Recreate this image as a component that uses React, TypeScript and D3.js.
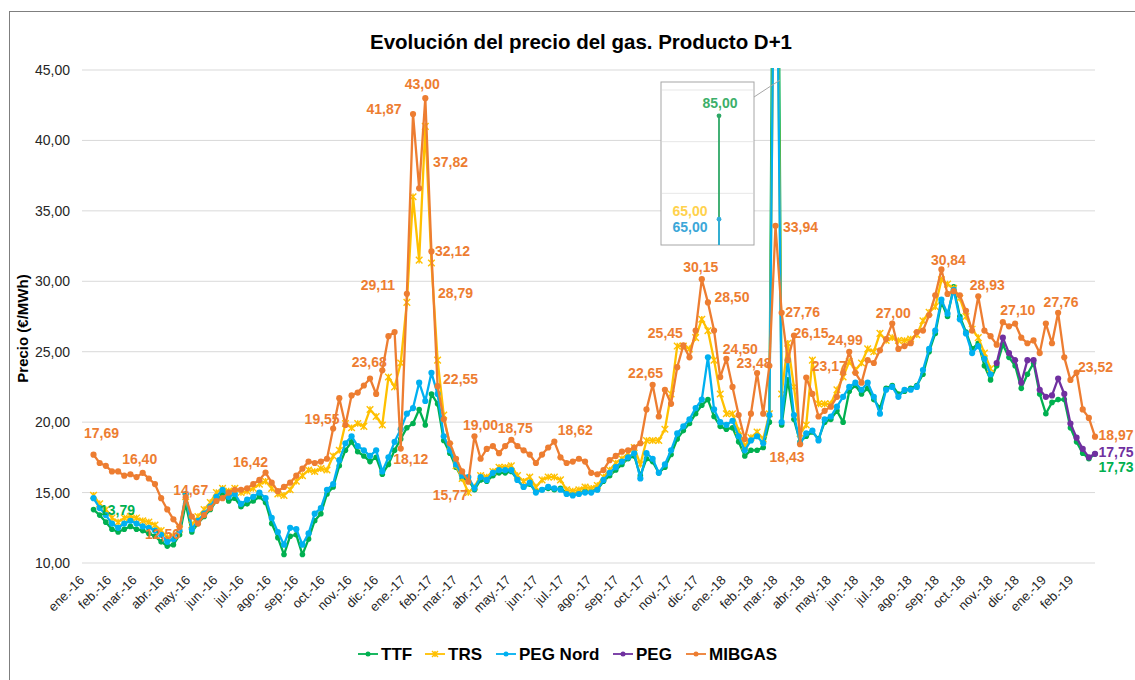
import React from "react";
import * as d3 from "d3";

// Spanish month abbreviations for the x axis
const monthNames = ["ene.", "feb.", "mar.", "abr.", "may.", "jun.", "jul.", "ago.", "sep.", "oct.", "nov.", "dic."];
const yTicks = [10, 15, 20, 25, 30, 35, 40, 45];

// weekly readings, first week = 13 Jan 2016
const firstWeek = new Date(Date.UTC(2016, 0, 13));
const axisStart = new Date(Date.UTC(2016, 0, 1));
const axisEnd = new Date(Date.UTC(2019, 1, 27));

const ttf = [
  13.79, 13.4, 12.9, 12.4, 12.2, 12.4, 12.6, 12.4, 12.3, 12.1,
  11.9, 11.5, 11.2, 11.3, 12.0, 14.2, 12.2, 12.8, 13.3, 13.8,
  14.4, 14.9, 14.4, 14.6, 14.0, 14.2, 14.4, 14.7, 14.3, 12.8,
  11.8, 10.6, 11.9, 12.0, 10.6, 11.7, 13.0, 13.5, 14.9, 15.4,
  16.9, 18.0, 18.6, 17.9, 17.6, 17.2, 17.5, 16.3, 17.0, 18.0,
  18.8, 19.6, 19.9, 20.9, 19.8, 22.0, 21.3, 18.7, 17.8, 16.8,
  16.0, 15.9, 15.2, 15.9, 15.8, 16.2, 16.4, 16.4, 16.5, 15.9,
  15.4, 15.6, 15.1, 15.2, 15.3, 15.2, 15.3, 15.0, 14.9, 15.0,
  15.1, 15.1, 15.2, 15.8, 16.2, 16.6, 17.0, 17.4, 17.6, 16.2,
  17.4, 17.2, 16.4, 16.8, 17.7, 18.8, 19.4, 19.9, 20.6, 21.2,
  21.6, 20.4, 19.7, 19.5, 19.6, 18.6, 17.6, 18.0, 18.0, 18.2,
  20.0, 85.0, 19.8, 23.0, 20.2, 18.6, 19.0, 19.3, 18.8, 20.0,
  20.2, 20.8, 20.0, 22.2, 22.6, 22.0, 22.4, 21.6, 21.0, 22.4,
  22.6, 22.0, 22.2, 22.4, 22.6, 23.4, 25.0, 26.3, 28.5, 27.5,
  29.6, 27.5, 26.4, 25.2, 25.6, 24.0, 23.0, 24.0, 25.5, 24.6,
  24.0, 22.4, 23.4, 24.2, 22.0, 20.6, 21.4, 21.6, 21.6, 19.6,
  18.6, 17.8, 17.4, 17.73,
];

const trs = [
  14.8, 14.2, 13.8, 13.2, 12.9, 13.2, 13.3, 13.2, 13.0, 12.9,
  12.7, 12.3, 11.8, 11.9, 12.4, 14.7, 12.7, 13.3, 13.8, 14.3,
  15.0, 15.3, 15.1, 15.3, 15.0, 15.1, 15.3, 15.6, 15.8, 15.3,
  14.9, 14.8, 15.2, 15.8, 16.2, 16.6, 16.5, 16.7, 16.6, 17.6,
  18.0, 19.9, 19.6, 19.9, 19.7, 20.9, 20.4, 19.8, 23.2, 22.5,
  24.2, 28.5, 36.0, 31.5, 41.0, 31.3, 24.4, 20.5, 18.3, 16.9,
  16.0, 15.0, 15.4, 16.2, 16.1, 16.5, 16.8, 16.8, 16.9, 16.2,
  15.8, 16.1, 15.4, 15.9, 16.1, 16.1, 15.9, 15.2, 15.1, 15.2,
  15.4, 15.3, 15.5, 16.1, 16.6, 17.1, 17.4, 17.8, 18.2, 17.0,
  18.7, 18.7, 18.7, 19.5, 22.0, 25.4, 25.4, 25.2, 26.0, 27.3,
  26.5, 24.4, 22.0, 20.6, 20.6, 19.4, 18.3, 18.9, 19.3, 18.8,
  20.6, 65.0, 22.0, 25.6, 22.5, 19.2, 19.8, 24.4, 21.3, 21.3,
  21.3, 22.3, 23.2, 24.3, 23.7, 24.2, 25.2, 25.0, 26.3, 25.8,
  26.0, 25.8, 25.8, 25.9, 26.2, 27.2, 27.8, 28.2, 30.1, 29.8,
  29.5, 28.8, 27.5, 26.6, 26.0, 24.9, 23.8,
];

const pegNord = [
  14.6, 13.9, 13.4, 12.8, 12.5, 12.8, 13.0, 12.8, 12.6, 12.5,
  12.3, 12.0, 11.5, 11.7, 12.3, 14.9, 12.4, 13.0, 13.5, 14.0,
  14.7, 15.2, 14.7, 14.9, 14.2, 14.5, 14.7, 15.0, 14.6, 13.2,
  12.2, 11.3, 12.5, 12.4, 11.3, 12.1, 13.5, 13.9, 15.2, 15.6,
  17.3, 18.5, 19.0, 18.3, 18.0, 17.6, 18.0, 16.5, 17.5, 18.6,
  19.5, 20.6, 21.0, 22.8, 21.5, 23.5, 22.0, 19.0, 18.0, 17.0,
  16.2, 16.1, 15.3, 16.1, 15.9, 16.4, 16.6, 16.6, 16.6, 15.9,
  15.4, 15.7, 15.0, 15.2, 15.4, 15.3, 15.2, 14.9, 14.8, 14.9,
  15.0, 15.0, 15.2, 15.9, 16.4, 16.8, 17.2, 17.5, 17.8, 16.0,
  17.8, 17.4, 16.4, 17.0, 18.0, 19.2, 19.7, 20.2, 21.0, 21.6,
  24.6, 20.9, 20.0, 19.8, 20.1, 19.0, 18.0, 18.7, 19.0, 18.5,
  20.5, 65.0, 20.0, 24.4, 20.5, 18.5, 19.2, 19.4, 18.7, 20.2,
  20.4, 21.1, 21.8, 22.5, 22.8, 22.3, 22.8, 21.8, 20.6, 22.3,
  22.5, 21.8, 22.3, 22.3, 22.5, 23.7, 25.2, 26.5, 28.7, 27.7,
  29.4, 27.3, 26.3, 24.9, 25.4, 24.5, 23.4,
];

// PEG replaces PEG Nord / TRS from November 2018
const pegFirstWeek = 147;
const peg = [24.2, 26.0, 24.9, 24.4, 22.8, 24.4, 24.4, 22.3, 21.8, 21.9, 23.1, 22.0, 19.9, 18.9, 18.1, 17.5, 17.75];

const mibgas = [
  17.69, 17.1, 16.9, 16.5, 16.5, 16.2, 16.3, 16.1, 16.4, 16.0,
  15.6, 14.6, 13.8, 13.1, 12.56, 14.67, 13.3, 12.8, 13.4, 13.9,
  14.4, 14.6, 15.0, 15.2, 15.2, 15.3, 15.6, 15.9, 16.42, 15.7,
  15.1, 15.4, 15.7, 16.2, 16.7, 17.2, 17.1, 17.2, 17.4, 19.55,
  21.7, 19.8, 21.9, 22.1, 22.6, 23.1, 22.0, 23.68, 26.1, 26.4,
  18.12, 29.11, 41.87, 36.6, 43.0, 32.12, 22.55, 20.2, 18.5, 17.4,
  16.5, 15.77, 19.0, 17.4, 18.1, 18.3, 17.8, 18.3, 18.75, 18.3,
  18.0, 17.7, 17.1, 17.7, 18.2, 18.62, 17.5, 17.1, 17.2, 17.4,
  17.2, 16.4, 16.3, 16.6, 17.3, 17.6, 17.9, 18.0, 18.2, 18.5,
  20.9, 22.65, 20.4, 22.3, 21.3, 23.9, 25.45, 24.6, 26.5, 30.15,
  28.5, 26.5, 23.2, 24.5, 22.5, 20.5, 18.8, 20.6, 23.48, 20.6,
  24.0, 33.94, 27.76, 24.4, 26.15, 18.43, 23.17, 22.0, 20.4, 20.8,
  21.1, 21.8, 23.5, 24.99, 23.5, 22.8, 24.4, 24.2, 25.1, 25.9,
  27.0, 25.2, 25.4, 25.6, 26.4, 26.5, 27.6, 29.0, 30.84, 29.1,
  29.3, 29.0, 27.9, 26.5, 28.93, 26.5, 26.1, 25.5, 27.1, 26.8,
  27.0, 26.0, 25.6, 25.8, 24.9, 27.0, 25.6, 27.76, 24.6, 23.0,
  23.52, 20.9, 20.3, 18.97,
];

// data labels: series, week index, value
const dataLabels: [string, number, number][] = [
  ["mibgas", 0, 17.69], ["mibgas", 8, 16.4], ["ttf", 0, 13.79], ["mibgas", 14, 12.56],
  ["mibgas", 15, 14.67], ["mibgas", 28, 16.42], ["mibgas", 39, 19.55], ["mibgas", 47, 23.68],
  ["mibgas", 50, 18.12], ["mibgas", 51, 29.11], ["mibgas", 52, 41.87], ["mibgas", 54, 43.0],
  ["mibgas", 55, 37.82], ["mibgas", 55, 32.12], ["mibgas", 55, 28.79], ["mibgas", 56, 22.55],
  ["mibgas", 61, 15.77], ["mibgas", 62, 19.0], ["mibgas", 68, 18.75], ["mibgas", 75, 18.62],
  ["mibgas", 91, 22.65], ["mibgas", 96, 25.45], ["mibgas", 99, 30.15], ["mibgas", 100, 28.5],
  ["mibgas", 103, 24.5], ["mibgas", 108, 23.48], ["mibgas", 111, 33.94], ["mibgas", 112, 27.76],
  ["mibgas", 114, 26.15], ["mibgas", 115, 18.43], ["mibgas", 116, 23.17], ["mibgas", 123, 24.99],
  ["mibgas", 130, 27.0], ["mibgas", 138, 30.84], ["mibgas", 144, 28.93], ["mibgas", 148, 27.1],
  ["mibgas", 157, 27.76], ["mibgas", 160, 23.52], ["mibgas", 163, 18.97], ["peg", 163, 17.75],
  ["ttf", 163, 17.73],
];
// where each label's centre sits relative to its point (px)
const labelOffsets: [number, number][] = [
  [8, -22], [-3, -14], [24, 0], [-17, 7], [5, -7], [-15, -11], [-11, -10], [-13, -8],
  [10, 10], [-29, -9], [-29, -5], [-3, -14], [19, -9], [21, 0], [24, -5], [23, -7],
  [-18, 13], [6, -11], [4, -12], [21, -12], [-7, -12], [-18, -12], [-1, -12], [24, -5],
  [14, -10], [-3, -10], [25, 1], [21, -1], [17, -3], [-13, 13], [23, -12], [-4, -12],
  [1, -11], [7, -9], [9, -11], [15, -12], [3, -11], [19, -6], [21, -2], [21, -2], [21, 13],
];

const spikeWeek = 111;

const COLORS: Record<string, string> = {
  ttf: "#00B050",
  trs: "#FFC000",
  pegNord: "#00B0F0",
  peg: "#7030A0",
  mibgas: "#ED7D31",
};

const FONT = "'Liberation Sans', Arial, Helvetica, sans-serif";

type Pt = { date: Date; value: number };
const toPoints = (vals: number[], offset = 0): Pt[] =>
  vals.map((v, i) => ({ date: d3.utcDay.offset(firstWeek, 7 * (i + offset)), value: v }));

const series = [
  { key: "ttf", name: "TTF", pts: toPoints(ttf), marker: "circle", r: 2.8 },
  { key: "trs", name: "TRS", pts: toPoints(trs), marker: "star", r: 3.3 },
  { key: "pegNord", name: "PEG Nord", pts: toPoints(pegNord), marker: "circle", r: 3.1 },
  { key: "peg", name: "PEG", pts: toPoints(peg, pegFirstWeek), marker: "circle", r: 3.1 },
  { key: "mibgas", name: "MIBGAS", pts: toPoints(mibgas), marker: "circle", r: 3.1 },
];
const byKey: Record<string, number[]> = { ttf, trs, pegNord, peg, mibgas };

const fmt = (v: number) => v.toFixed(2).replace(".", ",");

function Marker({ type, x, y, r, color }: { type: string; x: number; y: number; r: number; color: string }) {
  if (type === "star") {
    return (
      <path
        d={`M${x - r},${y - r}L${x + r},${y + r}M${x - r},${y + r}L${x + r},${y - r}M${x},${y - r}L${x},${y + r}`}
        stroke={color}
        strokeWidth={1.4}
        fill="none"
      />
    );
  }
  return <circle cx={x} cy={y} r={r} fill={color} />;
}

export default function App() {
  const width = 1135;
  const height = 680;
  const plot = { left: 82, right: 1095, top: 70, bottom: 563 };

  const x = d3.scaleUtc().domain([axisStart, axisEnd]).range([83, plot.right]);
  const y = d3.scaleLinear().domain([10, 45]).range([plot.bottom, plot.top]);

  const line = d3
    .line<Pt>()
    .x((d) => x(d.date))
    .y((d) => y(d.value));

  const months = d3.utcMonth.range(axisStart, new Date(Date.UTC(2019, 2, 1)));

  // inset (zoom on the March 2018 spike)
  const inset = { x0: 661, y0: 82, w: 93, h: 163, lineX: 719 };
  const insetY = d3.scaleLinear().domain([60, 90]).range([inset.y0 + inset.h, 90]);

  const legendX = [358, 425, 496, 613, 686];

  return (
    <svg
      width={width}
      height={height}
      style={{ position: "absolute", left: 0, top: 0, display: "block", background: "#fff" }}
      fontFamily={FONT}
    >
      <defs>
        <clipPath id="plotClip">
          <rect x={plot.left} y={plot.top - 2} width={plot.right - plot.left + 4} height={plot.bottom - plot.top + 6} />
        </clipPath>
      </defs>
      <rect x={9.5} y={11.5} width={1140} height={690} fill="#fff" stroke="#7F7F7F" strokeWidth={1} />

      <text x={581} y={49} textAnchor="middle" fontSize={20.5} fontWeight="bold" fill="#000">
        Evolución del precio del gas. Producto D+1
      </text>

      {/* gridlines + y ticks */}
      {yTicks.map((t) => (
        <g key={t}>
          <line x1={plot.left} x2={plot.right} y1={y(t)} y2={y(t)} stroke="#D9D9D9" strokeWidth={1} />
          <text x={70} y={y(t)} dy="0.36em" textAnchor="end" fontSize={14} fill="#262626">
            {fmt(t)}
          </text>
        </g>
      ))}

      <text
        transform={`translate(28,${(plot.top + plot.bottom) / 2 + 12}) rotate(-90)`}
        textAnchor="middle"
        fontSize={15}
        fontWeight="bold"
        fill="#000"
      >
        Precio (€/MWh)
      </text>

      {/* x tick labels */}
      {months.map((m) => (
        <text
          key={m.toISOString()}
          transform={`translate(${x(m) + 2},${581}) rotate(-45)`}
          textAnchor="end"
          fontSize={13}
          fill="#262626"
        >
          {`${monthNames[m.getUTCMonth()]}-${String(m.getUTCFullYear()).slice(2)}`}
        </text>
      ))}

      {/* series */}
      <g clipPath="url(#plotClip)">
        {series.map((s) => (
          <g key={s.key}>
            <path d={line(s.pts) ?? ""} fill="none" stroke={COLORS[s.key]} strokeWidth={2.3} strokeLinejoin="round" />
            {s.pts.map((p, i) => (
              <Marker key={i} type={s.marker} x={x(p.date)} y={y(p.value)} r={s.r} color={COLORS[s.key]} />
            ))}
          </g>
        ))}
      </g>

      {/* data labels */}
      {dataLabels.map(([k, w, v], i) => {
        const d = d3.utcDay.offset(firstWeek, 7 * w);
        const [dx, dy] = labelOffsets[i];
        return (
          <text
            key={i}
            x={x(d) + dx}
            y={y(v) + dy}
            dy="0.36em"
            textAnchor="middle"
            fontSize={14}
            fontWeight="bold"
            fill={COLORS[k]}
          >
            {fmt(v)}
          </text>
        );
      })}

      {/* inset */}
      <g>
        <rect x={inset.x0} y={inset.y0} width={inset.w} height={inset.h} fill="#fff" stroke="#A6A6A6" strokeWidth={1} />
        {[70, 80, 90].map((t) => (
          <line key={t} x1={inset.x0 + 1} x2={inset.x0 + inset.w - 1} y1={insetY(t)} y2={insetY(t)} stroke="#E7E7E7" />
        ))}
        <line
          x1={inset.lineX}
          x2={inset.lineX}
          y1={insetY(byKey.ttf[spikeWeek])}
          y2={inset.y0 + inset.h}
          stroke="#2EA866"
          strokeWidth={1.8}
        />
        <line
          x1={inset.lineX}
          x2={inset.lineX}
          y1={insetY(byKey.pegNord[spikeWeek])}
          y2={inset.y0 + inset.h}
          stroke="#33AEDC"
          strokeWidth={1.8}
        />
        <circle cx={inset.lineX} cy={insetY(byKey.ttf[spikeWeek])} r={2.4} fill="#2EA866" />
        <circle cx={inset.lineX} cy={insetY(byKey.pegNord[spikeWeek])} r={2.4} fill="#33AEDC" />
        <text x={inset.lineX + 1} y={insetY(byKey.ttf[spikeWeek]) - 13} dy="0.36em" textAnchor="middle" fontSize={14} fontWeight="bold" fill="#3CAF6A">
          {fmt(byKey.ttf[spikeWeek])}
        </text>
        <text x={690} y={insetY(byKey.trs[spikeWeek]) - 8} dy="0.36em" textAnchor="middle" fontSize={14} fontWeight="bold" fill="#FFD24D">
          {fmt(byKey.trs[spikeWeek])}
        </text>
        <text x={690} y={insetY(byKey.pegNord[spikeWeek]) + 8} dy="0.36em" textAnchor="middle" fontSize={14} fontWeight="bold" fill="#3BA7D8">
          {fmt(byKey.pegNord[spikeWeek])}
        </text>
        <line x1={inset.x0 + inset.w} y1={97} x2={780} y2={80} stroke="#A6A6A6" strokeWidth={1} />
      </g>

      {/* legend */}
      {series.map((s, i) => {
        const lx = legendX[i];
        const ly = 654;
        return (
          <g key={s.key}>
            <line x1={lx} x2={lx + 20} y1={ly} y2={ly} stroke={COLORS[s.key]} strokeWidth={1.8} />
            <Marker type={s.marker} x={lx + 10} y={ly} r={s.marker === "star" ? 3 : 2.5} color={COLORS[s.key]} />
            <text x={lx + 23} y={ly} dy="0.36em" fontSize={17} fontWeight="bold" fill="#000">
              {s.name}
            </text>
          </g>
        );
      })}
    </svg>
  );
}
